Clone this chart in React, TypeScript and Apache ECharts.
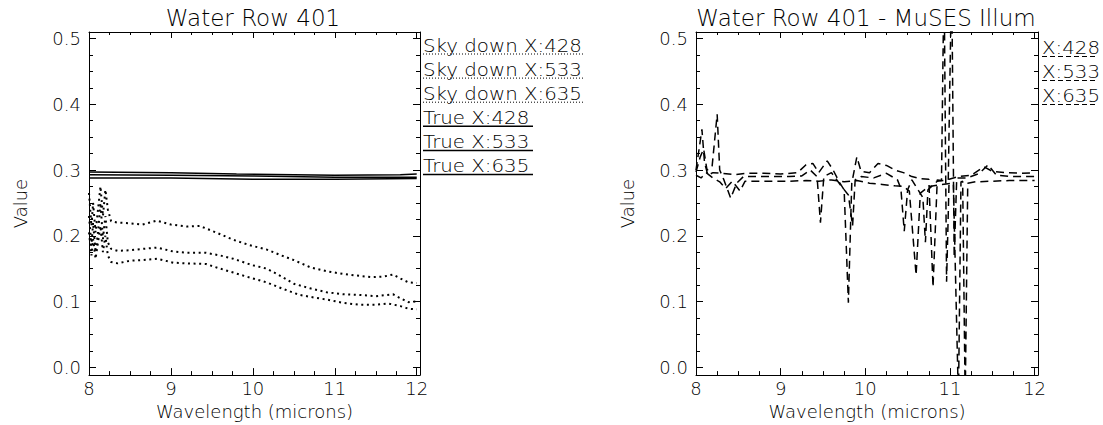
import React, { useEffect, useRef } from "react";
import * as echarts from "echarts";

const leftTitle = "Water Row 401";
const rightTitle = "Water Row 401 - MuSES Illum";
const xAxisTitle = "Wavelength (microns)";
const yAxisTitle = "Value";
const xTickLabels = [8, 9, 10, 11, 12];
const yTickLabels = [0, 0.1, 0.2, 0.3, 0.4, 0.5];
const leftLegend = ["Sky down X:428", "Sky down X:533", "Sky down X:635", "True X:428", "True X:533", "True X:635"];
const rightLegend = ["X:428", "X:533", "X:635"];

const skyDown428 = [
  [8.0, 0.265], [8.03, 0.215], [8.05, 0.25], [8.08, 0.205], [8.11, 0.24], [8.14, 0.275], [8.17, 0.23],
  [8.2, 0.27], [8.23, 0.24], [8.27, 0.222], [8.35, 0.22], [8.5, 0.219], [8.65, 0.217], [8.83, 0.223],
  [9.0, 0.217], [9.2, 0.214], [9.35, 0.215], [9.55, 0.205], [9.76, 0.194], [9.95, 0.186], [10.17, 0.179],
  [10.35, 0.17], [10.5, 0.163], [10.7, 0.152], [10.9, 0.146], [11.1, 0.142], [11.3, 0.139], [11.45, 0.137],
  [11.6, 0.138], [11.71, 0.141], [11.8, 0.135], [11.9, 0.129], [12.0, 0.128],
];
const skyDown533 = [
  [8.0, 0.23], [8.03, 0.185], [8.05, 0.22], [8.08, 0.175], [8.11, 0.205], [8.14, 0.25], [8.17, 0.195],
  [8.2, 0.23], [8.23, 0.19], [8.27, 0.18], [8.35, 0.177], [8.5, 0.178], [8.65, 0.18], [8.83, 0.182],
  [9.03, 0.176], [9.2, 0.174], [9.43, 0.174], [9.6, 0.17], [9.76, 0.165], [10.0, 0.155], [10.17, 0.15],
  [10.35, 0.138], [10.5, 0.127], [10.7, 0.12], [10.9, 0.114], [11.1, 0.111], [11.3, 0.11], [11.5, 0.108],
  [11.71, 0.111], [11.8, 0.105], [11.9, 0.099], [12.0, 0.1],
];
const skyDown635 = [
  [8.0, 0.205], [8.03, 0.17], [8.05, 0.195], [8.08, 0.165], [8.11, 0.19], [8.14, 0.215], [8.17, 0.175],
  [8.2, 0.2], [8.23, 0.17], [8.27, 0.16], [8.35, 0.158], [8.5, 0.162], [8.65, 0.163], [8.83, 0.165],
  [9.03, 0.159], [9.2, 0.158], [9.43, 0.157], [9.6, 0.15], [9.76, 0.144], [10.0, 0.135], [10.17, 0.129],
  [10.35, 0.12], [10.57, 0.11], [10.75, 0.106], [10.9, 0.103], [11.1, 0.098], [11.3, 0.095], [11.5, 0.095],
  [11.65, 0.097], [11.8, 0.093], [11.9, 0.089], [12.0, 0.088],
];
const true428 = [[8.0, 0.297], [9.0, 0.296], [9.8, 0.294], [10.5, 0.293], [11.0, 0.292], [11.8, 0.293], [12.0, 0.294]];
const true533 = [[8.0, 0.293], [9.0, 0.292], [10.0, 0.291], [11.0, 0.289], [12.0, 0.289]];
const true635 = [[8.0, 0.288], [9.0, 0.288], [10.0, 0.286], [11.0, 0.286], [12.0, 0.287]];

const illum428 = [
  [8.0, 0.3], [8.04, 0.335], [8.07, 0.362], [8.1, 0.312], [8.14, 0.292], [8.2, 0.296], [8.3, 0.295],
  [8.45, 0.293], [8.6, 0.295], [8.8, 0.295], [9.0, 0.294], [9.2, 0.296], [9.3, 0.308], [9.38, 0.31],
  [9.45, 0.296], [9.55, 0.314], [9.62, 0.3], [9.7, 0.28], [9.75, 0.27], [9.8, 0.098], [9.84, 0.28],
  [9.9, 0.32], [9.95, 0.298], [10.05, 0.296], [10.15, 0.31], [10.25, 0.307], [10.35, 0.3], [10.45, 0.296],
  [10.55, 0.29], [10.65, 0.287], [10.75, 0.286], [10.8, 0.122], [10.85, 0.285], [10.9, 0.284],
  [10.93, 0.6], [10.96, 0.13], [10.99, 0.286], [11.1, 0.29], [11.25, 0.292], [11.4, 0.305], [11.5, 0.298],
  [11.65, 0.296], [11.85, 0.295], [12.0, 0.296],
];
const illum533 = [
  [8.0, 0.297], [8.05, 0.32], [8.09, 0.332], [8.13, 0.3], [8.19, 0.305], [8.25, 0.385], [8.28, 0.3],
  [8.33, 0.285], [8.41, 0.257], [8.48, 0.28], [8.56, 0.29], [8.7, 0.29], [8.9, 0.29], [9.1, 0.29],
  [9.25, 0.291], [9.35, 0.3], [9.43, 0.29], [9.47, 0.22], [9.51, 0.29], [9.6, 0.296], [9.72, 0.275],
  [9.8, 0.262], [9.85, 0.215], [9.88, 0.285], [9.95, 0.29], [10.1, 0.288], [10.25, 0.295], [10.38, 0.285],
  [10.42, 0.272], [10.46, 0.207], [10.5, 0.27], [10.55, 0.285], [10.68, 0.258], [10.71, 0.19], [10.74, 0.27],
  [10.85, 0.283], [10.98, 0.285], [11.02, 0.6], [11.05, 0.167], [11.08, 0.288], [11.2, 0.288], [11.35, 0.295],
  [11.45, 0.308], [11.55, 0.292], [11.75, 0.29], [12.0, 0.29],
];
const illum635 = [
  [8.0, 0.292], [8.06, 0.288], [8.12, 0.296], [8.2, 0.288], [8.28, 0.282], [8.35, 0.272], [8.43, 0.283],
  [8.52, 0.268], [8.58, 0.283], [8.7, 0.283], [8.9, 0.283], [9.1, 0.283], [9.3, 0.284], [9.45, 0.283],
  [9.6, 0.285], [9.75, 0.282], [9.9, 0.284], [10.05, 0.28], [10.2, 0.278], [10.35, 0.276], [10.45, 0.275],
  [10.52, 0.268], [10.6, 0.14], [10.65, 0.265], [10.75, 0.275], [10.9, 0.278], [11.04, 0.28], [11.1, -0.05],
  [11.13, 0.282], [11.15, 0.283], [11.18, -0.05], [11.21, 0.28], [11.3, 0.282], [11.5, 0.283], [11.7, 0.284],
  [11.85, 0.284], [12.0, 0.284],
];

const FONT = "'DejaVu Sans', sans-serif";
const WEIGHT = 200;
const BLACK = "#000";

const xMinor: number[] = [];
for (let i = 8; i < 12; i++) for (let k = 1; k < 4; k++) xMinor.push(i + k * 0.25);
const yMinor: number[] = [];
for (let i = 0; i < 5; i++) for (let k = 1; k < 4; k++) yMinor.push(Math.round((i * 0.1 + k * 0.025) * 10000) / 10000);

const lineStyle = { color: BLACK, width: 1 };
const textStyle = { color: BLACK, fontSize: 18, fontFamily: FONT, fontWeight: WEIGHT };

function xAxes(g: number) {
  const base = { gridIndex: g, type: "value", min: 8, max: 12.04, splitLine: { show: false } };
  return [
    {
      ...base, position: "bottom",
      axisLine: { show: true, onZero: false, lineStyle },
      axisTick: { show: true, inside: true, length: 7, customValues: xTickLabels, lineStyle },
      axisLabel: { show: true, customValues: xTickLabels, margin: 4, ...textStyle, formatter: (v: number) => String(Math.round(v)) },
      name: xAxisTitle, nameLocation: "middle", nameGap: 20, nameTextStyle: textStyle,
    },
    { ...base, position: "bottom", axisLine: { show: false, onZero: false }, axisTick: { show: true, inside: true, length: 4, customValues: xMinor, lineStyle }, axisLabel: { show: false } },
    { ...base, position: "top", axisLine: { show: true, onZero: false, lineStyle }, axisTick: { show: true, inside: true, length: 6, customValues: xTickLabels, lineStyle }, axisLabel: { show: false } },
    { ...base, position: "top", axisLine: { show: false, onZero: false }, axisTick: { show: true, inside: true, length: 3, customValues: xMinor, lineStyle }, axisLabel: { show: false } },
  ];
}

function yAxes(g: number) {
  const base = { gridIndex: g, type: "value", min: -0.012, max: 0.51, splitLine: { show: false } };
  return [
    {
      ...base, position: "left",
      axisLine: { show: true, onZero: false, lineStyle },
      axisTick: { show: true, inside: true, length: 7, customValues: yTickLabels, lineStyle },
      axisLabel: { show: true, customValues: yTickLabels, margin: 8, ...textStyle, formatter: (v: number) => v.toFixed(1) },
      name: yAxisTitle, nameLocation: "middle", nameGap: 60, nameTextStyle: textStyle,
    },
    { ...base, position: "left", axisLine: { show: false, onZero: false }, axisTick: { show: true, inside: true, length: 4, customValues: yMinor, lineStyle }, axisLabel: { show: false } },
    { ...base, position: "right", axisLine: { show: true, onZero: false, lineStyle }, axisTick: { show: true, inside: true, length: 7, customValues: yTickLabels, lineStyle }, axisLabel: { show: false } },
    { ...base, position: "right", axisLine: { show: false, onZero: false }, axisTick: { show: true, inside: true, length: 4, customValues: yMinor, lineStyle }, axisLabel: { show: false } },
  ];
}

function line(name: string, data: number[][], axis: number, type: any, width: number) {
  return {
    name, type: "line", data, xAxisIndex: axis, yAxisIndex: axis, symbol: "none", showSymbol: false,
    clip: true, silent: true, lineStyle: { color: BLACK, width, type, cap: "butt" },
  };
}

const DOT = [2, 3.6];
const DASH = [8, 5];

function legendRows(labels: string[], x: number, y0: number, step: number, widths: number[], dashes: any[], widthsLine: number[]) {
  const els: any[] = [];
  labels.forEach((t, i) => {
    const yU = y0 + i * step;
    els.push({
      type: "text", x, y: yU - 9, scaleX: 1.1,
      style: { text: t, fill: BLACK, fontSize: 18, fontFamily: FONT, fontWeight: WEIGHT, textAlign: "left", textVerticalAlign: "middle" },
    });
    els.push({
      type: "line", shape: { x1: x, y1: yU, x2: x + widths[i], y2: yU },
      style: { stroke: BLACK, lineWidth: widthsLine[i], lineDash: dashes[i] },
    });
  });
  return els;
}

export default function App() {
  const ref = useRef<HTMLDivElement>(null);
  useEffect(() => {
    if (!ref.current) return;
    const chart = echarts.init(ref.current, undefined, { renderer: "svg" });
    const graphics = [
      ...legendRows(leftLegend, 423, 54, 24.1, [160, 160, 160, 110, 110, 110], [[1, 2], [1, 2], [1, 2], null, null, null], [1, 1, 1, 1.5, 1.5, 1.5]),
      ...legendRows(rightLegend, 1042, 56.5, 24, [56, 56, 56], [[5, 3], [5, 3], [5, 3]], [1, 1, 1]),
    ];
    const titleStyle = { color: BLACK, fontSize: 23, fontWeight: WEIGHT, fontFamily: FONT };
    chart.setOption({
      animation: false,
      backgroundColor: "#fff",
      title: [
        { text: leftTitle, left: 253, top: 6, textAlign: "center", padding: 0, textStyle: titleStyle },
        { text: rightTitle, left: 866, top: 6, textAlign: "center", padding: 0, textStyle: titleStyle },
      ],
      grid: [
        { left: 89, top: 32, width: 331, height: 347 },
        { left: 696, top: 32, width: 342, height: 347 },
      ],
      xAxis: [...xAxes(0), ...xAxes(1)],
      yAxis: [...yAxes(0), ...yAxes(1)],
      series: [
        line(leftLegend[0], skyDown428, 0, DOT, 2),
        line(leftLegend[1], skyDown533, 0, DOT, 2),
        line(leftLegend[2], skyDown635, 0, DOT, 2),
        line(leftLegend[3], true428, 0, "solid", 1.5),
        line(leftLegend[4], true533, 0, "solid", 1.5),
        line(leftLegend[5], true635, 0, "solid", 1.5),
        line(rightLegend[0], illum428, 4, DASH, 1.5),
        line(rightLegend[1], illum533, 4, DASH, 1.5),
        line(rightLegend[2], illum635, 4, DASH, 1.5),
      ],
      graphic: { elements: graphics },
    });
    return () => chart.dispose();
  }, []);
  return <div ref={ref} style={{ position: "fixed", left: 0, top: 0, width: 1103, height: 425 }} />;
}
